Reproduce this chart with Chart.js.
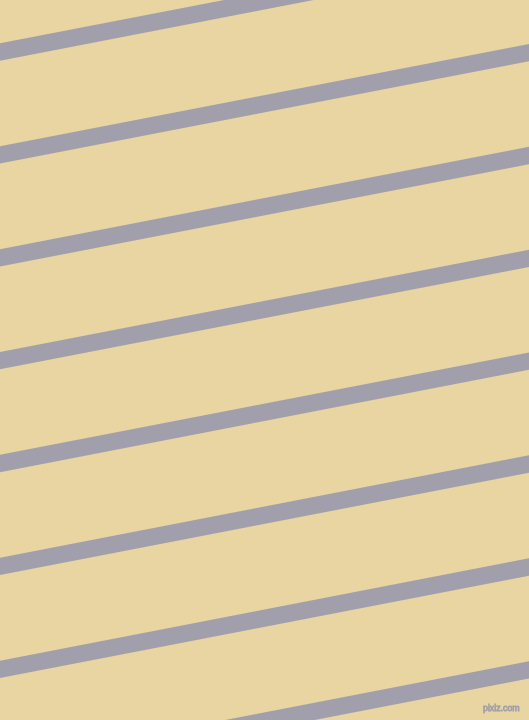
<!DOCTYPE html>
<html>
<head>
<meta charset="utf-8">
<script src="https://cdn.jsdelivr.net/npm/chart.js@4/dist/chart.umd.min.js"></script>
<style>
  html, body { margin: 0; padding: 0; overflow: hidden; background: #E8D5A2; }
  #wrap { position: relative; width: 529px; height: 720px; }
  #mark { position: absolute; left: 483px; top: 703px; font-family: "Liberation Sans", Arial, sans-serif; font-size: 8.8px; line-height: 10px; color: #E4DCC8; -webkit-text-stroke: 0.9px #A3A1A6; }
</style>
</head>
<body>
<div id="wrap">
  <canvas id="c" width="529" height="720"></canvas>
  <div id="mark">pixiz.com</div>
</div>
<script>
// Stripe endpoints (y in pixels from top, at left and right edges)
const stripeNames = ["s0", "s1", "s2", "s3", "s4", "s5", "s6", "s7"];
const leftY  = [52.0, 154.9, 257.8, 360.6, 463.5, 566.3, 669.3, 772.2];
const rightY = [-50.3, 52.6, 155.5, 258.3, 361.2, 464.0, 567.0, 669.9];
const xEnds = [0, 529];

const bgColor = "#E8D5A2";
const stripeColor = "#A29FAD";

const slope = (rightY[0] - leftY[0]) / (xEnds[1] - xEnds[0]);
const datasets = stripeNames.map((n, i) => ({
  label: n,
  data: [
    { x: xEnds[0] - 20, y: leftY[i] - 20 * slope },
    { x: xEnds[1] + 20, y: rightY[i] + 20 * slope }
  ],
  showLine: true,
  borderColor: stripeColor,
  borderWidth: 17,
  borderCapStyle: "butt",
  pointRadius: 0,
  fill: false
}));

const bgPlugin = {
  id: "bg",
  beforeDraw(chart) {
    const ctx = chart.ctx;
    ctx.save();
    ctx.fillStyle = bgColor;
    ctx.fillRect(0, 0, chart.width, chart.height);
    ctx.restore();
  }
};

new Chart(document.getElementById("c"), {
  type: "scatter",
  data: { datasets },
  options: {
    responsive: false,
    animation: false,
    devicePixelRatio: 1,
    layout: { padding: 0 },
    plugins: { legend: { display: false }, tooltip: { enabled: false } },
    scales: {
      x: { type: "linear", min: 0, max: 529, display: false },
      y: { type: "linear", min: 0, max: 720, reverse: true, display: false }
    }
  },
  plugins: [bgPlugin]
});
</script>
</body>
</html>
